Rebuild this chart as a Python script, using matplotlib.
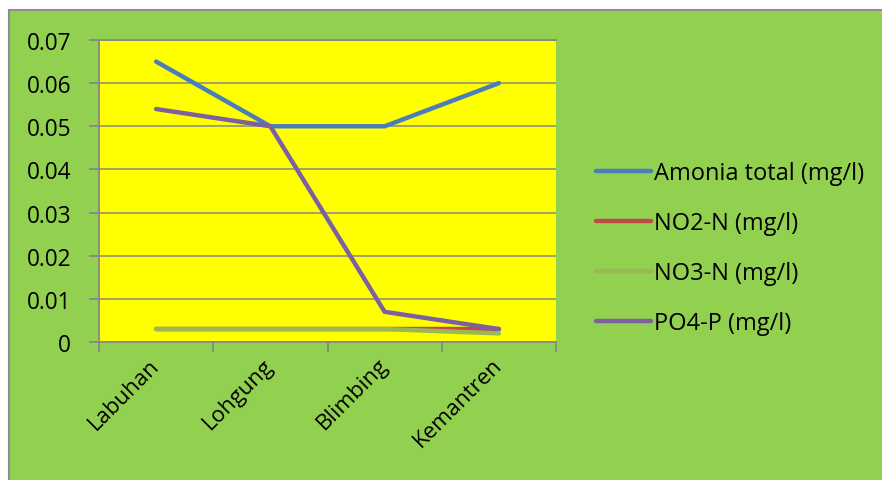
import matplotlib.pyplot as plt
from matplotlib.patches import Rectangle
import numpy as np

# Stasiun dan parameter kualitas air
stations = ["Labuhan", "Lohgung", "Blimbing", "Kemantren"]
amonia = [0.065, 0.05, 0.05, 0.06]
no2_n = [0.003, 0.003, 0.003, 0.003]
no3_n = [0.003, 0.003, 0.003, 0.002]
po4_p = [0.054, 0.05, 0.007, 0.003]
y_ticks = [0, 0.01, 0.02, 0.03, 0.04, 0.05, 0.06, 0.07]
y_labels = ["0", "0.01", "0.02", "0.03", "0.04", "0.05", "0.06", "0.07"]

GREEN_BG = "#92D050"
YELLOW = "#FFFF00"
GRID = "#878787"

plt.rcParams['font.family'] = ['Open Sans', 'DejaVu Sans']

fig = plt.figure(figsize=(8.82, 4.81), dpi=100, facecolor="white")

# Hintergrund hijau dengan bingkai abu-abu
frame = Rectangle((9 / 882, -0.05), 1.0, 1 - 11 / 481 + 0.05,
                  transform=fig.transFigure, facecolor=GREEN_BG,
                  edgecolor="#8E8E8E", linewidth=1.5, zorder=-10)
fig.patches.append(frame)

ax = fig.add_axes([99 / 882, 1 - 343 / 481, (556 - 99) / 882, (343 - 41) / 481])
ax.set_zorder(1)
ax.set_facecolor(YELLOW)

x = np.arange(len(stations))
ax.plot(x, amonia, color="#4A7EBB", lw=3.2, label="Amonia total (mg/l)", solid_capstyle="round", zorder=3)
ax.plot(x, no2_n, color="#BE4B48", lw=3.2, label="NO2-N (mg/l)", solid_capstyle="round", zorder=3)
ax.plot(x, no3_n, color="#98B954", lw=3.2, label="NO3-N (mg/l)", solid_capstyle="round", zorder=3)
ax.plot(x, po4_p, color="#7D60A0", lw=3.2, label="PO4-P (mg/l)", solid_capstyle="round", zorder=3)

ax.set_xlim(-0.5, len(stations) - 0.5)
ax.set_ylim(0, 0.07)
ax.set_yticks(y_ticks)
ax.set_yticklabels(y_labels, fontsize=16.3)
ax.yaxis.grid(True, color=GRID, lw=1.1)
ax.set_axisbelow(True)

ax.set_xticks(x)
ax.set_xticklabels(stations, rotation=45, ha="right", va="center",
                   rotation_mode="anchor", fontsize=16)
ax.set_xticks(np.arange(-0.5, len(stations)), minor=True)
ax.tick_params(axis="x", which="major", length=0, pad=14)
ax.tick_params(axis="x", which="minor", length=7, color=GRID, width=1.3)
ax.tick_params(axis="y", length=7, color=GRID, width=1.3, pad=13)

for side in ["right"]:
    ax.spines[side].set_visible(False)
for side in ["left", "bottom", "top"]:
    ax.spines[side].set_color(GRID)
    ax.spines[side].set_linewidth(1.3)

ax.legend(loc="center left", bbox_to_anchor=(596 / 882, 1 - 249 / 481),
          bbox_transform=fig.transFigure, frameon=False, fontsize=17,
          handlelength=2.35, handletextpad=0.12, labelspacing=1.1,
          borderpad=0, borderaxespad=0)

fig.savefig("out.png", dpi=100, facecolor="white")
